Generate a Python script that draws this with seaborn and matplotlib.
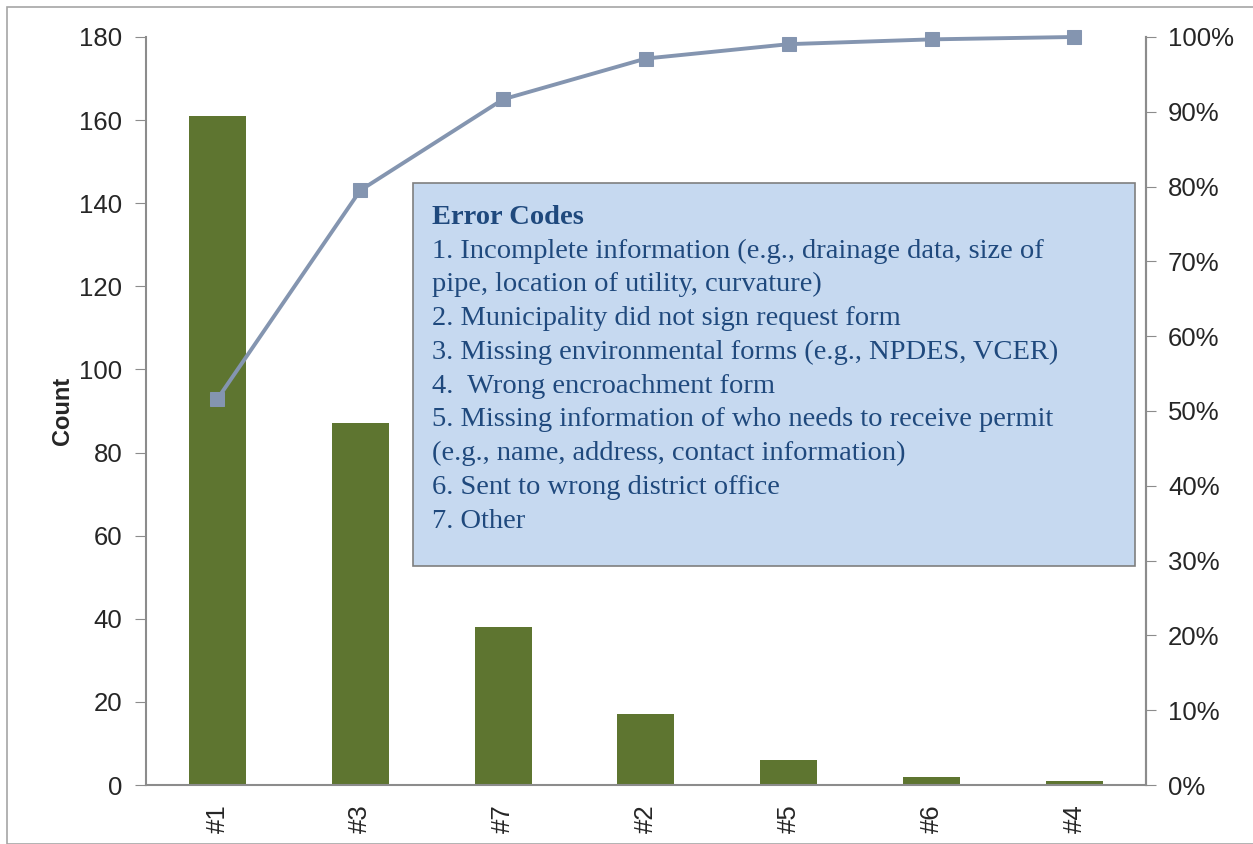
import numpy as np
import pandas as pd
import matplotlib
matplotlib.use('Agg')
import matplotlib.pyplot as plt
from matplotlib.patches import Rectangle
from matplotlib.ticker import PercentFormatter, FixedLocator
import seaborn as sns

codes = ['#1', '#3', '#7', '#2', '#5', '#6', '#4']
counts = [161, 87, 38, 17, 6, 2, 1]
cum_pct = list(np.cumsum(counts) / np.sum(counts) * 100)

legend_lines = [
    '1. Incomplete information (e.g., drainage data, size of',
    'pipe, location of utility, curvature)',
    '2. Municipality did not sign request form',
    '3. Missing environmental forms (e.g., NPDES, VCER)',
    '4.  Wrong encroachment form',
    '5. Missing information of who needs to receive permit',
    '(e.g., name, address, contact information)',
    '6. Sent to wrong district office',
    '7. Other',
]

df = pd.DataFrame({'code': codes, 'count': counts, 'cum': cum_pct})

sns.set_style('white')
plt.rcParams['font.family'] = ['Liberation Sans', 'DejaVu Sans']

fig = plt.figure(figsize=(12.53, 8.44), dpi=100)
ax = fig.add_axes([0.1165, 0.0699, 0.798, 0.8863])

bar_color = '#5E7530'
line_color = '#8495B0'
axis_gray = '#8C8C8C'

sns.barplot(data=df, x='code', y='count', color=bar_color, width=0.4,
            saturation=1, ax=ax, edgecolor='none')
ax.set_xlim(-0.5, len(codes) - 0.5)
ax.set_ylim(0, 180)
ax.set_yticks(range(0, 181, 20))
ax.set_ylabel('Count', fontsize=17, fontweight='bold', labelpad=4)
ax.set_xlabel('')
ax.tick_params(axis='y', labelsize=18.5, direction='out', length=8, color=axis_gray, pad=9)
ax.tick_params(axis='x', labelsize=18.5, rotation=90, length=0, pad=14)
ax.xaxis.set_minor_locator(FixedLocator(np.arange(-0.5, len(codes), 1.0)))
ax.tick_params(axis='x', which='minor', direction='out', length=8, color=axis_gray)
ax.spines['top'].set_visible(False)
for s in ['left', 'bottom', 'right']:
    ax.spines[s].set_color(axis_gray)
    ax.spines[s].set_linewidth(1.5)

ax2 = ax.twinx()
sns.lineplot(data=df, x='code', y='cum', ax=ax2, color=line_color, linewidth=2.8,
             marker='s', markersize=10, markeredgecolor=line_color, sort=False,
             clip_on=False)
ax2.set_ylim(0, 100)
ax2.set_yticks(range(0, 101, 10))
ax2.yaxis.set_major_formatter(PercentFormatter(decimals=0))
ax2.set_ylabel('')
ax2.tick_params(axis='y', labelsize=18.5, direction='out', length=7, color=axis_gray, pad=9)
for s in ['top', 'left', 'bottom']:
    ax2.spines[s].set_visible(False)
ax2.spines['right'].set_color(axis_gray)
ax2.spines['right'].set_linewidth(1.5)

# legend box with error codes
box = Rectangle((413 / 1253, 1 - 566 / 844), (1135 - 413) / 1253, (566 - 183) / 844,
                transform=fig.transFigure, facecolor='#C6D9F0', edgecolor='#7F7F7F',
                linewidth=1.2, zorder=5)
fig.add_artist(box)
fig.text(432 / 1253, 1 - 217 / 844, 'Error Codes', fontsize=20.5, fontweight='bold',
         color='#1F497D', family='Liberation Serif', va='center', zorder=6)
for i, line in enumerate(legend_lines):
    fig.text(432 / 1253, 1 - (251 + i * 33.8) / 844, line, fontsize=20.5,
             color='#1F497D', family='Liberation Serif', va='center', zorder=6)

# outer frame
fig.add_artist(Rectangle((7 / 1253, 0), 1.0, 1 - 7 / 844, transform=fig.transFigure,
                         facecolor='none', edgecolor='#A6A6A6', linewidth=1.2))

fig.savefig('out.png', dpi=100)
